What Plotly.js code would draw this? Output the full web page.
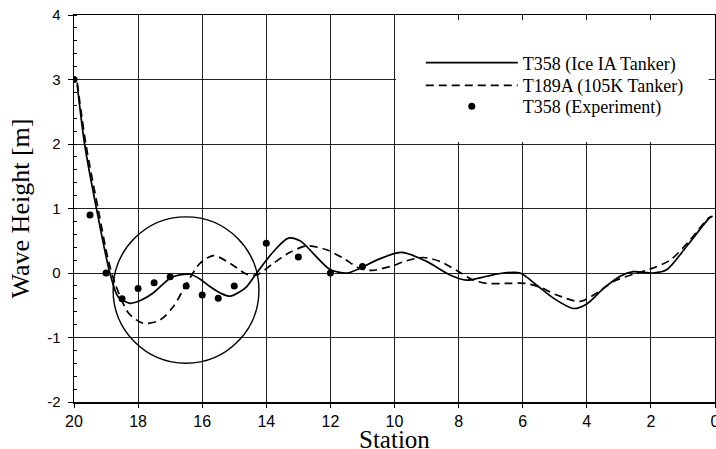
<!DOCTYPE html>
<html>
<head>
<meta charset="utf-8">
<script src="https://cdn.plot.ly/plotly-3.0.1.min.js"></script>
<style>html,body{margin:0;padding:0;background:#fff;}#chart{width:716px;height:449px;}</style>
</head>
<body>
<div id="chart"></div>
<script>
// T358 (Ice IA Tanker) computed wave profile
const solidStation = [19.9, 19.67, 19.3, 18.88, 18.62, 18.25, 17.9, 17.53, 17.0, 16.7, 16.38, 16.05, 15.76, 15.4, 15.13, 14.85, 14.61, 14.3, 13.78, 13.31, 12.95, 12.64, 12.3, 12.0, 11.49, 11.08, 10.56, 9.78, 9.0, 8.27, 7.75, 7.12, 6.6, 6.08, 5.56, 5.04, 4.42, 4.0, 3.48, 2.96, 2.55, 1.92, 1.51, 0.89, 0.16, 0.08];
const solidHeight  = [2.92, 2.0, 1.0, 0.0, -0.37, -0.47, -0.42, -0.31, -0.08, -0.03, -0.02, -0.1, -0.21, -0.32, -0.36, -0.3, -0.21, 0.0, 0.33, 0.54, 0.5, 0.36, 0.18, 0.05, 0.0, 0.07, 0.2, 0.32, 0.18, -0.03, -0.11, -0.05, 0.0, 0.0, -0.19, -0.39, -0.55, -0.48, -0.24, -0.05, 0.02, 0.0, 0.05, 0.41, 0.86, 0.88];

// T189A (105K Tanker) computed wave profile
const dashStation = [19.9, 19.63, 19.25, 18.93, 18.72, 18.3, 17.84, 17.32, 16.9, 16.48, 16.07, 15.65, 15.13, 14.61, 14.3, 13.78, 13.26, 12.74, 12.12, 11.6, 11.08, 10.71, 10.14, 9.62, 9.1, 8.58, 8.06, 7.54, 7.12, 6.4, 5.93, 5.46, 4.94, 4.21, 3.69, 3.17, 2.55, 2.03, 1.4, 0.78, 0.21, 0.08];
const dashHeight  = [2.95, 2.0, 1.0, 0.2, -0.16, -0.62, -0.78, -0.73, -0.52, -0.16, 0.15, 0.27, 0.15, -0.02, -0.03, 0.15, 0.32, 0.42, 0.36, 0.23, 0.07, 0.04, 0.1, 0.19, 0.24, 0.18, 0.04, -0.11, -0.16, -0.16, -0.16, -0.22, -0.34, -0.44, -0.31, -0.13, -0.02, 0.06, 0.2, 0.51, 0.85, 0.88];

// T358 experiment
const expStation = [20, 19.5, 19, 18.5, 18, 17.5, 17, 16.5, 16, 15.5, 15, 14, 13, 12, 11];
const expHeight  = [3, 0.9, 0, -0.4, -0.24, -0.15, -0.06, -0.2, -0.34, -0.39, -0.2, 0.46, 0.25, 0, 0.1];

const xTicks = [20, 18, 16, 14, 12, 10, 8, 6, 4, 2, 0];
const yTicks = [-2, -1, 0, 1, 2, 3, 4];
const seriesNames = ["T358 (Ice IA Tanker)", "T189A (105K Tanker)", "T358 (Experiment)"];
const xTitle = 'Station';
const yTitle = 'Wave Height [m]';

const traces = [
  {x: solidStation, y: solidHeight, name: seriesNames[0], type: 'scatter', mode: 'lines', legend: 'legend',
   line: {color: '#000', width: 1.7, shape: 'spline', smoothing: 0.8}},
  {x: dashStation, y: dashHeight, name: seriesNames[1], type: 'scatter', mode: 'lines', legend: 'legend2',
   line: {color: '#000', width: 1.7, dash: '8px,5px', shape: 'spline', smoothing: 0.8}},
  {x: expStation, y: expHeight, name: seriesNames[2], type: 'scatter', mode: 'markers', legend: 'legend3',
   marker: {color: '#000', size: 7}}
];

const tickFont = {family: 'Arial, "Liberation Sans", sans-serif', size: 15, color: '#000'};
const titleFont = {family: '"Times New Roman", "Liberation Serif", serif', size: 26, color: '#000'};
const legendFont = {family: '"Times New Roman", "Liberation Serif", serif', size: 18, color: '#000'};

function legendAt(y) {
  return {x: 0.541, xanchor: 'left', y: y, yanchor: 'top',
          bgcolor: 'rgba(0,0,0,0)', borderwidth: 0, itemwidth: 92, font: legendFont};
}

const layout = {
  width: 716, height: 449,
  margin: {l: 74, r: 1, t: 15, b: 47},
  paper_bgcolor: '#fff', plot_bgcolor: '#fff',
  showlegend: true,
  legend: legendAt(0.924),
  legend2: legendAt(0.865),
  legend3: legendAt(0.811),
  xaxis: {
    range: [20, 0], tickvals: xTicks, ticktext: xTicks.map(String),
    showgrid: true, gridcolor: '#222', gridwidth: 1,
    zeroline: false, showline: true, linecolor: '#000', linewidth: 1.5, mirror: true,
    ticks: 'outside', ticklen: 4, tickcolor: '#000', ticklabeloverflow: 'allow',
    tickfont: {family: tickFont.family, size: 16, color: '#000'}
  },
  yaxis: {
    range: [-2, 4], tickvals: yTicks, ticktext: yTicks.map(String),
    showgrid: true, gridcolor: '#222', gridwidth: 1,
    zeroline: false, showline: true, linecolor: '#000', linewidth: 1.5, mirror: true,
    ticks: 'outside', ticklen: 5, tickcolor: '#000', ticklabelstandoff: 4,
    minor: {dtick: 0.2, ticks: 'inside', ticklen: 3, tickcolor: '#000', showgrid: false},
    tickfont: tickFont,
    title: {text: yTitle, font: titleFont, standoff: 10}
  },
  annotations: [
    {text: xTitle, xref: 'paper', yref: 'paper', x: 0.5, y: -0.097, xanchor: 'center', yanchor: 'middle',
     showarrow: false, font: {family: titleFont.family, size: 25, color: '#000'}}
  ],
  shapes: [
    {type: 'rect', xref: 'x', yref: 'y', x0: 9.95, x1: 0.2, y0: 2.03, y1: 3.92,
     fillcolor: '#fff', line: {width: 0}, layer: 'above'},
    {type: 'circle', xref: 'x', yref: 'y', x0: 18.78, x1: 14.23, y0: -1.40, y1: 0.87,
     line: {color: '#000', width: 1.4}, layer: 'above'}
  ]
};

Plotly.newPlot('chart', traces, layout, {staticPlot: true, displayModeBar: false});
</script>
</body>
</html>
